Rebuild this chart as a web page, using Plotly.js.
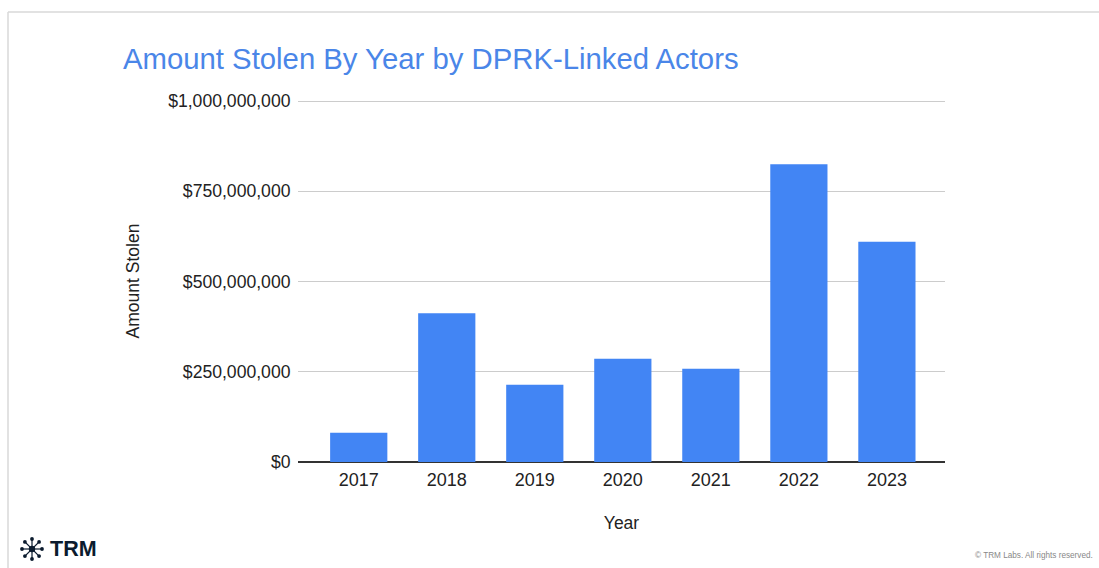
<!DOCTYPE html>
<html>
<head>
<meta charset="utf-8">
<script src="https://cdn.plot.ly/plotly-3.0.1.min.js"></script>
<style>
html,body{margin:0;padding:0;background:#fff;}
#chart{width:1099px;height:568px;}
</style>
</head>
<body>
<div id="chart"></div>
<script>
const years = ["2017", "2018", "2019", "2020", "2021", "2022", "2023"];
const amountStolen = [81000000, 412000000, 214000000, 286000000, 258000000, 825000000, 610000000];
const yTickValues = [0, 250000000, 500000000, 750000000, 1000000000];
const yTickLabels = ["$0", "$250,000,000", "$500,000,000", "$750,000,000", "$1,000,000,000"];

const W = 1099, H = 568;
const L = 298, R = 945, T = 100, B = 462;
function px(x){ return (x - L) / (R - L); }
function py(y){ return (B - y) / (B - T); }

// TRM logo icon (decoration)
const shapes = [];
const cx = 32, cy = 549, rad = 10;
for (let i = 0; i < 8; i++) {
  const a = i * Math.PI / 4;
  const ex = cx + rad * Math.cos(a), ey = cy + rad * Math.sin(a);
  shapes.push({type:'line', xref:'paper', yref:'paper', x0:px(cx), y0:py(cy), x1:px(ex), y1:py(ey), line:{color:'#0b1b2e', width:1.2}});
  shapes.push({type:'circle', xref:'paper', yref:'paper', x0:px(ex-1.9), x1:px(ex+1.9), y0:py(ey-1.9), y1:py(ey+1.9), fillcolor:'#0b1b2e', line:{width:0}});
}
shapes.push({type:'circle', xref:'paper', yref:'paper', x0:px(cx-3.2), x1:px(cx+3.2), y0:py(cy-3.2), y1:py(cy+3.2), fillcolor:'#0b1b2e', line:{width:0}});
// frame
shapes.push({type:'line', xref:'paper', yref:'paper', x0:px(8), y0:py(12), x1:px(1099), y1:py(12), line:{color:'#d9d9d9', width:1.5}});
shapes.push({type:'line', xref:'paper', yref:'paper', x0:px(8), y0:py(12), x1:px(8), y1:py(568), line:{color:'#d9d9d9', width:1.5}});

const data = [{
  type: 'bar',
  x: years,
  y: amountStolen,
  marker: {color: '#4285f4'},
  width: 0.65,
  hoverinfo: 'x+y'
}];

const font = 'Liberation Sans, Arial, sans-serif';
const layout = {
  width: W, height: H,
  margin: {l: L, r: W - R, t: T, b: H - B, pad: 0},
  paper_bgcolor: '#ffffff',
  plot_bgcolor: '#ffffff',
  font: {family: font, color: '#222222', size: 18},
  showlegend: false,
  title: {
    text: 'Amount Stolen By Year by DPRK-Linked Actors',
    font: {family: font, size: 29.3, color: '#4a86e8'},
    xref: 'container', yref: 'container',
    x: 123 / W, xanchor: 'left',
    y: 1 - 59 / H, yanchor: 'middle'
  },
  xaxis: {
    type: 'category',
    range: [-0.69, 6.66],
    showgrid: false,
    showline: false,
    zeroline: false,
    ticks: 'outside', ticklen: 1, tickcolor: 'rgba(0,0,0,0)',
    tickfont: {family: font, size: 18, color: '#222222'},
    title: {text: 'Year', font: {family: font, size: 17.5, color: '#222222'}, standoff: 28},
    automargin: false,
    fixedrange: true
  },
  yaxis: {
    range: [0, 1002800000],
    tickvals: yTickValues,
    ticktext: yTickLabels,
    showgrid: true,
    gridcolor: '#cccccc',
    gridwidth: 1,
    zeroline: true,
    zerolinecolor: '#333333',
    zerolinewidth: 1.5,
    showline: false,
    ticks: 'outside', ticklen: 3, tickcolor: 'rgba(0,0,0,0)',
    tickfont: {family: font, size: 17.6, color: '#222222'},
    title: {text: 'Amount Stolen', font: {family: font, size: 17.5, color: '#222222'}, standoff: 24},
    automargin: false,
    fixedrange: true
  },
  bargap: 0.35,
  shapes: shapes,
  annotations: [
    {text: '<b>TRM</b>', xref: 'paper', yref: 'paper', x: px(48), y: py(549), xanchor: 'left', yanchor: 'middle', showarrow: false, font: {family: 'Liberation Sans, Arial, sans-serif', size: 21.5, color: '#0b1b2e'}},
    {text: '© TRM Labs. All rights reserved.', xref: 'paper', yref: 'paper', x: px(1095), y: py(555), xanchor: 'right', yanchor: 'middle', showarrow: false, font: {family: font, size: 8.2, color: '#888888'}}
  ]
};

Plotly.newPlot('chart', data, layout, {displayModeBar: false, staticPlot: true});
</script>
</body>
</html>
